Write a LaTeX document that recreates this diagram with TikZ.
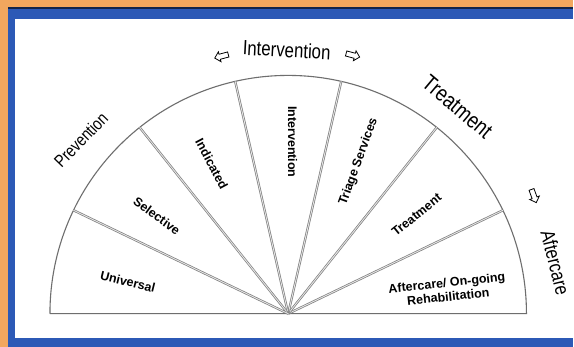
\documentclass[tikz,border=0pt]{standalone}
\usepackage{fontspec}
\setmainfont{Liberation Sans}
\newfontfamily\narrowfont[FakeStretch=0.82]{Liberation Sans}
\usetikzlibrary{
  shapes.arrows,
  calc
}
\definecolor{fcOrange}{HTML}{F2A75E}
\definecolor{fcBlue}{HTML}{2C59B6}
\definecolor{fcLine}{HTML}{6E6E6E}
\tikzset{
  fan/.style={draw=fcLine, line width=1.1pt},
  spoke/.style={draw=fcLine!90, line width=0.7pt, double=white!80!gray, double distance=0.9pt},
  phase/.style={font=\narrowfont\fontsize{20.5}{20.5}\selectfont, inner sep=0pt},
  tier/.style={font=\bfseries\fontsize{12.5}{14}\selectfont, inner sep=0pt, align=center},
  hollow/.style={
    single arrow, draw=black, fill=white, line width=0.8pt, inner sep=2.2pt,
    minimum height=14pt, single arrow head extend=2.5pt
  }
}

\begin{document}
\begin{tikzpicture}[x=1pt, y=1pt]
  % frame
  \fill[fcOrange] (0,0) rectangle (574,347);
  \fill[fcBlue] (8,0) rectangle (574,339);
  \draw[fcBlue!40!black, line width=1.2pt] (8,339) -- (574,339);
  \fill[white] (15,9) rectangle (574,328);
  \useasboundingbox (0,0) rectangle (574,347);

  % fan
  \coordinate (O) at (288.5,33);
  \foreach \k in {1,...,6}
    \coordinate (S\k) at ($(O)+({\k*180/7}:238.5)$);
  \draw[fan] (O) ++(-238.5,0) coordinate (W) -- ++(477,0) coordinate (E)
    arc[start angle=0, end angle=180, radius=238.5];
  \foreach \k in {1,...,6}
    \draw[spoke] (O) -- (S\k);

  % tiers
  \node[tier, rotate=-14] (universal) at (128,65) {Universal};
  \node[tier, rotate=-36] (selective) at (157,131) {Selective};
  \node[tier, rotate=-62] (indicated) at (212,183) {Indicated};
  \node[tier, rotate=-90] (intervention) at (293,205) {Intervention};
  \node[tier, rotate=70] (triage) at (359,185) {Triage Services};
  \node[tier, rotate=39] (treatment) at (417,132) {Treatment};
  \node[tier, rotate=6] (aftercare) at (448,57) {Aftercare/ On-going\\Rehabilitation};

  % phases
  \node[phase, rotate=46, font=\narrowfont\fontsize{17.5}{17.5}\selectfont] (pPrev) at (81,207) {Prevention};
  \node[phase, rotate=-3] (pInt) at (287,297) {Intervention};
  \node[phase, rotate=-40, font=\narrowfont\fontsize{22.5}{22.5}\selectfont] (pTreat) at (458,240) {Treatment};
  \node[phase, rotate=-76, font=\narrowfont\fontsize{20}{20}\selectfont] (pAfter) at (556,84) {Aftercare};

  % arrows
  \node[hollow, rotate=195] (arL) at (223,291) {};
  \node[hollow, rotate=-15] (arR) at (352,292) {};
  \node[hollow, rotate=-70] (arD) at (534,152) {};
\end{tikzpicture}
\end{document}
